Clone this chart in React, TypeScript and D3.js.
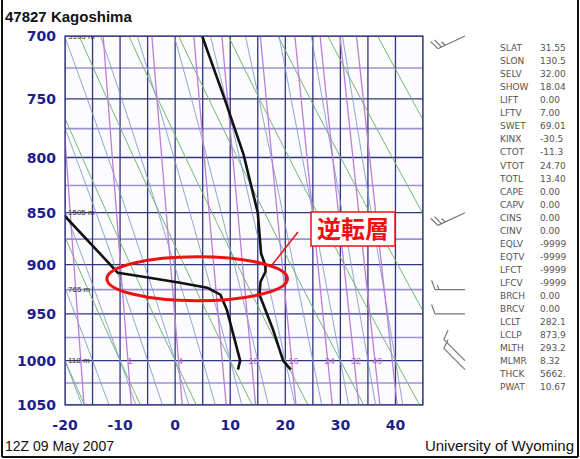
import React from "react";
import * as d3 from "d3";

// ---------- data ----------
const pressureTicks = [700, 750, 800, 850, 900, 950, 1000, 1050];
const tempTicks = [-20, -10, 0, 10, 20, 30, 40];
const isotherms = [-20, -15, -10, -5, 0, 5, 10, 15, 20, 25, 30, 35, 40, 45];
const isobarsMajor = [700, 750, 800, 850, 900, 950, 1000, 1050];
const isobarsMinor = [725, 775, 825, 875, 925, 975, 1025];
const dryAdiabatsC = [-40, -30, -20, -10, 0, 10, 20, 30, 40, 50, 60, 70, 80, 90];
const moistStartsC = [-20, -15, -10, -5, 0, 5, 10, 15, 20, 25, 30, 35, 40];
const mixingRatios = [0.4, 1, 2, 4, 7, 10, 16, 24, 32, 40, 48];
const mixingLabels = ["", "", "1", "4", "", "10", "16", "24", "32", "40", ""];

const tempP = [1010, 1000, 967, 930, 917, 907, 901, 889, 850, 797, 749, 700];
const tempT = [21.0, 19.6, 17.8, 15.3, 15.5, 16.4, 16.4, 15.6, 15.0, 12.4, 8.9, 4.9];
const dewP = [1010, 1000, 946, 930, 923, 918, 912, 908, 850, 840];
const dewT = [11.4, 11.8, 9.4, 8.2, 5.8, 0.9, -5.8, -10.4, -20.6, -22.0];

const heightP = [700, 850, 925, 1000];
const heightLabels = ["3105 m", "1505 m", "765 m", "118 m"];

const windP = [700, 850, 925, 950, 1000, 1010];
const windDir = [245, 245, 270, 270, 315, 315];
const windSpd = [25, 25, 15, 10, 10, 10];

const statNames = ["SLAT", "SLON", "SELV", "SHOW", "LIFT", "LFTV", "SWET", "KINX", "CTOT", "VTOT", "TOTL", "CAPE", "CAPV", "CINS", "CINV", "EQLV", "EQTV", "LFCT", "LFCV", "BRCH", "BRCV", "LCLT", "LCLP", "MLTH", "MLMR", "THCK", "PWAT"];
const statValues = ["31.55", "130.5", "32.00", "18.04", "0.00", "7.00", "69.01", "-30.5", "-11.3", "24.70", "13.40", "0.00", "0.00", "0.00", "0.00", "-9999", "-9999", "-9999", "-9999", "0.00", "0.00", "282.1", "873.9", "293.2", "8.32", "5662.", "10.67"];

// ---------- layout ----------
const W = 580, H = 459;
const PL = 65, PR = 423, PT = 36, PB = 405;

const x = d3.scaleLinear().domain([-20, 45]).range([PL, PR]);
const y = d3.scaleLog().domain([700, 1050]).range([PT, PB]);

const pGrid = d3.range(690, 1062, 4);

function dryT(thetaC: number, p: number) {
  return (thetaC + 273.15) * Math.pow(p / 1000, 0.2857) - 273.15;
}
function tdFromW(w: number, p: number) {
  const e = (w * p) / (622 + w);
  const l = Math.log(e / 6.112);
  return (243.5 * l) / (17.67 - l);
}
function dTdp(p: number, T: number) {
  const Rd = 287.04, cp = 1005.7, Lv = 2.501e6;
  const Tc = T - 273.15;
  const es = 6.112 * Math.exp((17.67 * Tc) / (Tc + 243.5));
  const rs = (0.622 * es) / (p - es);
  const num = Rd * T + Lv * rs;
  const den = cp + (Lv * Lv * rs * 0.622) / (Rd * T * T);
  return num / (den * p);
}
function moistLine(t0: number): [number, number][] {
  const up: [number, number][] = [];
  let T = t0 + 273.15;
  for (let p = 1000; p >= 690; p -= 2) {
    up.push([p, T - 273.15]);
    T -= dTdp(p, T) * 2;
  }
  const down: [number, number][] = [];
  T = t0 + 273.15;
  for (let p = 1000; p <= 1060; p += 2) {
    down.push([p, T - 273.15]);
    T += dTdp(p, T) * 2;
  }
  return [...up.reverse(), ...down.slice(1)];
}

const line = d3
  .line<[number, number]>()
  .x((d) => x(d[1]))
  .y((d) => y(d[0]));

function barbPath(bx: number, by: number, dir: number, spd: number) {
  const ux = -Math.cos(((270 - dir) * Math.PI) / 180);
  const uy = Math.sin(((270 - dir) * Math.PI) / 180);
  const L = 30;
  const tx = bx + ux * L, ty = by + uy * L;
  let d = `M${bx},${by}L${tx},${ty}`;
  const px = -uy, py = ux;
  let rem = spd;
  let pos = 0;
  const fx = px * 0.94 + ux * 0.34, fy = py * 0.94 + uy * 0.34;
  while (rem >= 10) {
    const sx = tx - ux * pos, sy = ty - uy * pos;
    d += `M${sx},${sy}l${fx * 10},${fy * 10}`;
    pos += 4;
    rem -= 10;
  }
  if (rem >= 5) {
    const sx = tx - ux * pos, sy = ty - uy * pos;
    d += `M${sx},${sy}l${fx * 5},${fy * 5}`;
  }
  return d;
}

export default function App() {
  const fontSans = "'Liberation Sans', Arial, sans-serif";
  const axisFont = "'DejaVu Sans', sans-serif";
  const ecx = x(4), ecy = y(914);
  return (
    <svg width={W} height={H} style={{ display: "block", position: "absolute", left: 0, top: 0, background: "#fff" }}>
      <defs>
        <clipPath id="plotClip">
          <rect x={PL} y={PT} width={PR - PL} height={PB - PT} />
        </clipPath>
      </defs>
      <rect x={0} y={0} width={W} height={H} fill="#fff" />
      <rect x={PL} y={PT} width={PR - PL} height={PB - PT} fill="#fcfcff" />
      <g clipPath="url(#plotClip)">
        {isobarsMinor.map((p) => (
          <line key={"n" + p} x1={PL} x2={PR} y1={y(p)} y2={y(p)} stroke="#9d93d2" strokeWidth={1.6} />
        ))}
        {isobarsMajor.map((p) => (
          <line key={"m" + p} x1={PL} x2={PR} y1={y(p)} y2={y(p)} stroke="#34347e" strokeWidth={1.3} />
        ))}
        {isotherms.map((t) => (
          <line key={"t" + t} x1={x(t)} x2={x(t)} y1={PT} y2={PB} stroke="#34347e" strokeWidth={1.3} />
        ))}
        {dryAdiabatsC.map((th) => (
          <path key={"d" + th} d={line(pGrid.map((p) => [p, dryT(th, p)] as [number, number])) || ""} fill="none" stroke="#6fb86f" strokeWidth={1} />
        ))}
        {moistStartsC.map((t0) => (
          <path key={"ma" + t0} d={line(moistLine(t0)) || ""} fill="none" stroke="#7d98c8" strokeWidth={0.9} />
        ))}
        {mixingRatios.map((w) => (
          <path key={"w" + w} d={line(pGrid.map((p) => [p, tdFromW(w, p)] as [number, number])) || ""} fill="none" stroke="#bb7fd6" strokeWidth={1.3} />
        ))}
        {mixingRatios.map((w, i) =>
          mixingLabels[i] ? (
            <text key={"wl" + w} x={x(tdFromW(w, 1000)) + 2} y={y(1000)} dy="0.35em" fontSize={9} fontFamily={fontSans} fill="#b05fc8" textAnchor="middle">
              {mixingLabels[i]}
            </text>
          ) : null
        )}
        {heightP.map((p, i) => (
          <text key={"h" + p} x={PL + 3} y={y(p)} dy="0.35em" fontSize={8} fontFamily={fontSans} fill="#333">
            {heightLabels[i]}
          </text>
        ))}
        <path d={line(tempP.map((p, i) => [p, tempT[i]] as [number, number])) || ""} fill="none" stroke="#111" strokeWidth={2.6} strokeLinejoin="round" />
        <path d={line(dewP.map((p, i) => [p, dewT[i]] as [number, number])) || ""} fill="none" stroke="#111" strokeWidth={2.6} strokeLinejoin="round" />
      </g>
      <rect x={PL} y={PT} width={PR - PL} height={PB - PT} fill="none" stroke="#34347e" strokeWidth={1.3} />

      {/* axis labels */}
      {pressureTicks.map((p) => (
        <text key={"pl" + p} x={56} y={y(p)} dy="0.36em" textAnchor="end" fontSize={14} fontWeight="bold" fontFamily={axisFont} fill="#1e1e8c">
          {p}
        </text>
      ))}
      {tempTicks.map((t) => (
        <text key={"tl" + t} x={x(t)} y={425} dy="0.36em" textAnchor="middle" fontSize={14} fontWeight="bold" fontFamily={axisFont} fill="#1e1e8c">
          {t}
        </text>
      ))}

      {/* wind barbs */}
      {windP.map((p, i) => (
        <path key={"b" + i} d={barbPath(465, y(p), windDir[i], windSpd[i])} fill="none" stroke="#777" strokeWidth={1.2} />
      ))}

      {/* stats */}
      {statNames.map((n, i) => (
        <g key={"s" + n}>
          <text x={500} y={48 + i * 13.04} dy="0.35em" fontSize={9} fontFamily={axisFont} fill="#555">
            {n}
          </text>
          <text x={540} y={48 + i * 13.04} dy="0.35em" fontSize={9} fontFamily={axisFont} fill="#555">
            {statValues[i]}
          </text>
        </g>
      ))}

      {/* titles */}
      <text x={5} y={22} fontSize={15} fontFamily={fontSans} fontWeight="bold" fill="#111">
        47827  Kagoshima
      </text>
      <text x={5} y={451} fontSize={14} fontFamily={fontSans} fill="#111">
        12Z 09 May 2007
      </text>
      <text x={574} y={451} fontSize={15} fontFamily={fontSans} textAnchor="end" fill="#111">
        University of Wyoming
      </text>

      {/* annotation */}
      <ellipse cx={ecx} cy={ecy} rx={x(20.4) - x(4)} ry={22} fill="none" stroke="#ee1111" strokeWidth={3} />
      <line x1={272} y1={265} x2={298} y2={232} stroke="#ee1111" strokeWidth={1.5} />
      <rect x={311} y={212} width={84} height={34} fill="#fff" stroke="#ee1111" strokeWidth={1.5} />
      <text x={353} y={229} dy="0.36em" textAnchor="middle" fontSize={24} fontWeight="bold" fontFamily="'Noto Sans CJK JP', sans-serif" fill="#ee1111">
        逆転層
      </text>

      {/* outer border */}
      <line x1={2} y1={0} x2={2} y2={457} stroke="#111" strokeWidth={2} />
      <line x1={2} y1={457} x2={578} y2={457} stroke="#111" strokeWidth={2} />
      <line x1={578} y1={0} x2={578} y2={457} stroke="#111" strokeWidth={2} />
    </svg>
  );
}
